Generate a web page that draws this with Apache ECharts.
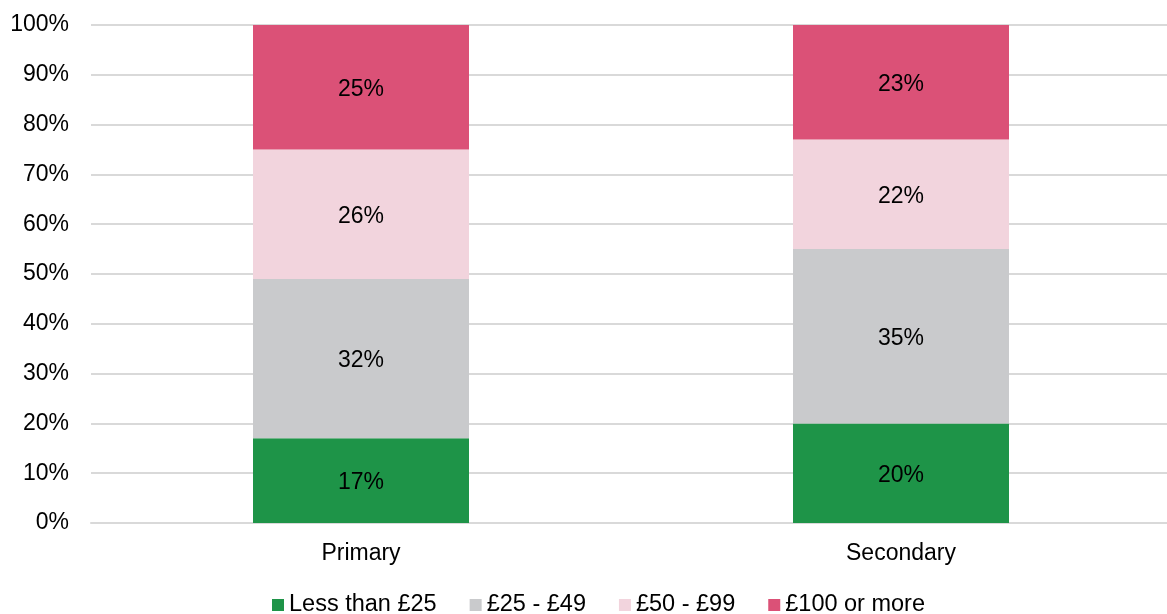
<!DOCTYPE html>
<html>
<head>
<meta charset="utf-8">
<script src="https://cdn.jsdelivr.net/npm/echarts@6/dist/echarts.min.js"></script>
<style>
  html, body { margin: 0; padding: 0; background: #fff; overflow: hidden; }
  #chart { width: 1171px; height: 614px; }
</style>
</head>
<body>
<div id="chart"></div>
<script>
  var categories = ['Primary', 'Secondary'];
  var seriesNames = ['Less than £25', '£25 - £49', '£50 - £99', '£100 or more'];
  var lessThan25 = [17, 20];
  var from25to49 = [32, 35];
  var from50to99 = [26, 22];
  var over100 = [25, 23];
  var yTicks = [0, 10, 20, 30, 40, 50, 60, 70, 80, 90, 100];

  var colors = ['#1e9448', '#c9cacc', '#f2d4dd', '#db5177'];
  var values = [lessThan25, from25to49, from50to99, over100];

  var chart = echarts.init(document.getElementById('chart'));

  var series = seriesNames.map(function (name, i) {
    return {
      name: name,
      type: 'bar',
      stack: 'total',
      barWidth: 216,
      data: values[i],
      itemStyle: { color: colors[i] },
      label: {
        show: true,
        position: 'inside',
        offset: [0, 2],
        formatter: '{c}%',
        color: '#000',
        fontSize: 23,
        fontFamily: 'Liberation Sans'
      }
    };
  });

  chart.setOption({
    animation: false,
    textStyle: { fontFamily: 'Liberation Sans' },
    grid: { left: 91, right: 0, top: 25, bottom: 91, containLabel: false },
    legend: {
      data: seriesNames,
      top: 593,
      left: 272,
      padding: 0,
      itemWidth: 12,
      itemHeight: 12,
      itemGap: 33,
      icon: 'rect',
      textStyle: { fontSize: 23.5, color: '#000' }
    },
    xAxis: {
      type: 'category',
      data: categories,
      axisTick: { show: false },
      axisLine: { lineStyle: { color: '#d9d9d9', width: 2 } },
      axisLabel: { fontSize: 23, color: '#000', margin: 19 }
    },
    yAxis: {
      type: 'value',
      min: yTicks[0],
      max: yTicks[yTicks.length - 1],
      interval: 10,
      axisLine: { show: false },
      axisTick: { show: false },
      splitLine: { lineStyle: { color: '#d9d9d9', width: 2 } },
      axisLabel: { fontSize: 23, color: '#000', margin: 22, padding: [4, 0, 0, 0], formatter: '{value}%' }
    },
    series: series
  });
</script>
</body>
</html>
